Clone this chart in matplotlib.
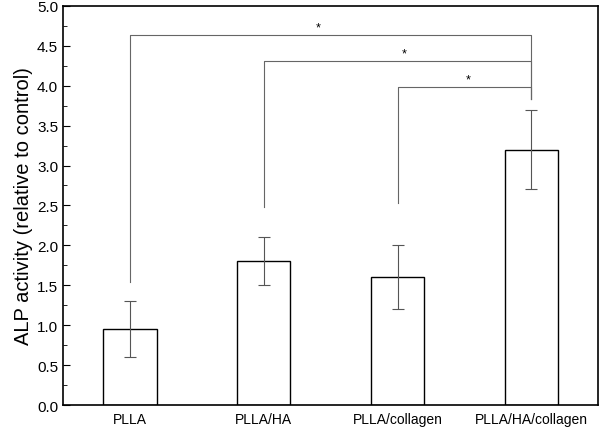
import numpy as np
import matplotlib.pyplot as plt
from matplotlib.ticker import MultipleLocator

plt.rcParams['font.family'] = ['Liberation Sans', 'DejaVu Sans']

grupos = ['PLLA', 'PLLA/HA', 'PLLA/collagen', 'PLLA/HA/collagen']
valores = [0.95, 1.8, 1.6, 3.2]
errores = [0.35, 0.3, 0.4, 0.5]

# brackets: (left group, right group, bracket height, left line start, right line end)
corchetes = [(0, 3, 4.64, 1.54, 3.83),
             (1, 3, 4.31, 2.48, 3.83),
             (2, 3, 3.98, 2.53, 3.83)]
asteriscos_x = [1.41, 2.05, 2.53]

fig = plt.figure(figsize=(6, 4.31), dpi=100)
ax = fig.add_axes([0.105, 0.058, 0.892, 0.926])

x = np.arange(len(grupos))
ax.bar(x, valores, width=0.4, color='white', edgecolor='black', linewidth=1.0)
ax.errorbar(x, valores, yerr=errores, fmt='none', ecolor='#555555',
            elinewidth=0.8, capsize=4, capthick=0.8)

for (i, j, h, y0, y1), ax_x in zip(corchetes, asteriscos_x):
    ax.plot([x[i], x[i], x[j], x[j]], [y0, h, h, y1], color='#666666', lw=0.8)
    ax.text(ax_x, h + 0.02, '*', ha='center', va='bottom', fontsize=9)

ax.set_xlim(-0.5, 3.5)
ax.set_ylim(0, 5.0)
ax.set_xticks(x)
ax.set_xticklabels(grupos, fontsize=10)
ax.tick_params(axis='x', length=0, pad=5)
ax.yaxis.set_major_locator(MultipleLocator(0.5))
ax.yaxis.set_minor_locator(MultipleLocator(0.25))
ax.yaxis.set_major_formatter(plt.FormatStrFormatter('%.1f'))
ax.tick_params(axis='y', which='major', direction='in', length=5, labelsize=11)
ax.tick_params(axis='y', which='minor', direction='in', length=3)
ax.set_ylabel('ALP activity (relative to control)', fontsize=14.5, labelpad=3)
for s in ax.spines.values():
    s.set_linewidth(1.2)

fig.savefig('out.png', dpi=100)
